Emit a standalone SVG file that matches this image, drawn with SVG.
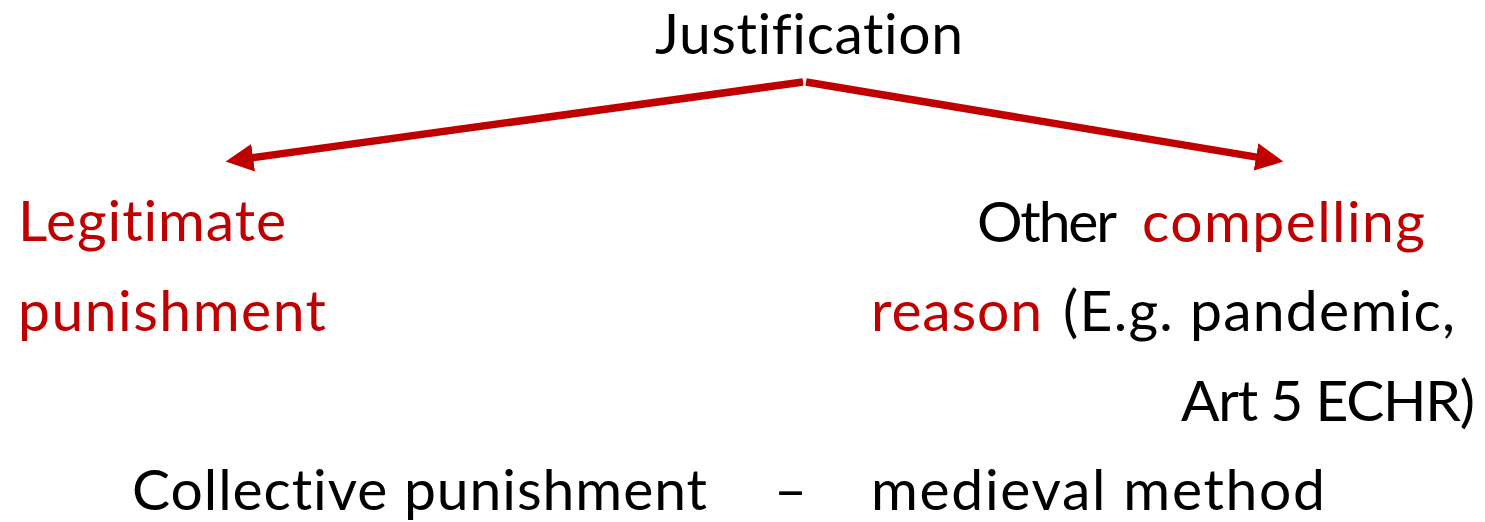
<svg xmlns="http://www.w3.org/2000/svg" width="1485" height="522" viewBox="0 0 1485 522">
  <style>
    text { font-family: Lato, "Open Sans", "Liberation Sans", sans-serif; font-size: 57px; fill: #000000; font-variant-ligatures: none; font-feature-settings: "liga" 0, "clig" 0; }
    .red { fill: #C00000; }
    .conn { stroke: #C00000; stroke-width: 7.5; fill: none; stroke-linecap: butt; }
  </style>
  <defs>
    <marker id="arrow" markerUnits="userSpaceOnUse" markerWidth="30" markerHeight="30" viewBox="0 -13 26 26" refX="2" refY="0" orient="auto">
      <path d="M0,-12 L24,0 L0,12 z" fill="#C00000"/>
    </marker>
  </defs>
  <rect width="1485" height="522" fill="#FFFFFF"/>

  <g id="connectors">
    <path class="conn" d="M803,82 L250.8,158" marker-end="url(#arrow)"/>
    <path class="conn" d="M806,82 L1258.3,157.4" marker-end="url(#arrow)"/>
  </g>

  <g id="node-justification">
    <text x="655" y="54" textLength="308">Justification</text>
  </g>

  <g id="node-legitimate">
    <text class="red" x="18" y="241" textLength="268">Legitimate</text>
    <text class="red" x="18" y="331" textLength="308">punishment</text>
  </g>

  <g id="node-other">
    <text x="977" y="242" textLength="140">Other</text>
    <text class="red" x="1142" y="242" textLength="283">compelling</text>
    <text class="red" x="871" y="331" textLength="171">reason</text>
    <text x="1063" y="331" textLength="392">(E.g. pandemic,</text>
    <text x="1181" y="421" textLength="294">Art 5 ECHR)</text>
  </g>

  <g id="node-collective">
    <text x="132" y="510" textLength="575">Collective punishment</text>
    <text x="774" y="510" textLength="32">–</text>
    <text x="871" y="510" textLength="454">medieval method</text>
  </g>
</svg>
